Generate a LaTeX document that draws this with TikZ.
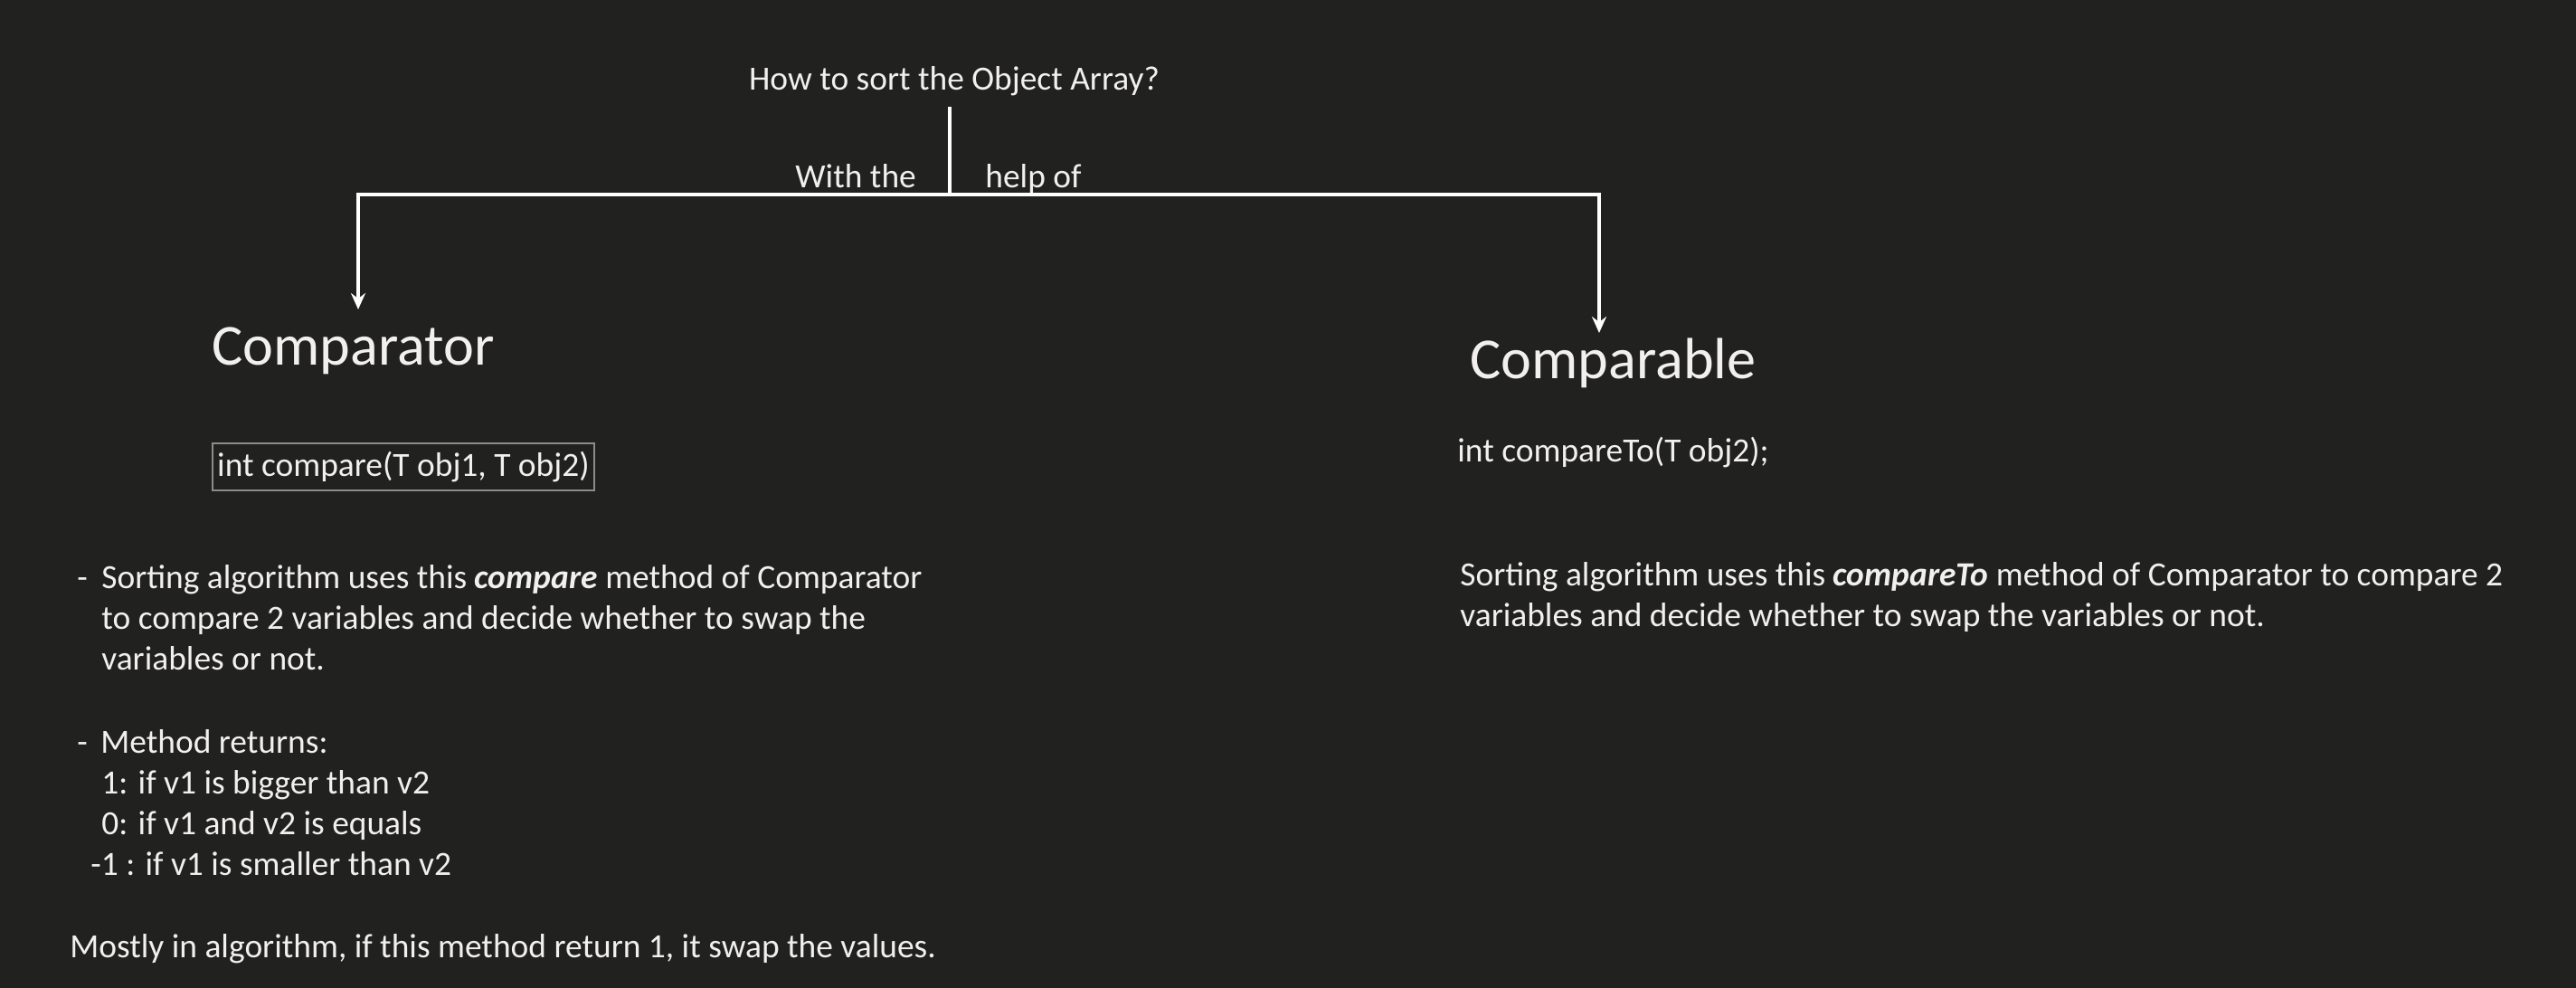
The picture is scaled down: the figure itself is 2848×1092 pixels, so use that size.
\documentclass[tikz,border=0pt]{standalone}
\usepackage{fontspec}
\setmainfont{Carlito}
\usetikzlibrary{arrows.meta}
\definecolor{bg}{RGB}{33,33,32}
\definecolor{fg}{RGB}{242,240,236}
\definecolor{boxline}{RGB}{140,140,138}
\tikzset{
  txt/.style={inner sep=0pt, anchor=base west, text=fg, font=\fontsize{18.72}{22.5}\selectfont},
  head/.style={inner sep=0pt, anchor=base west, text=fg, font=\fontsize{32.1}{36}\selectfont},
  conn/.style={draw=white, line width=1.8pt},
  arr/.style={conn, -{Stealth[length=9pt,width=8pt,inset=3pt]}},
  sigbox/.style={draw=boxline, line width=0.7pt, text=fg, inner sep=0pt,
    minimum width=211pt, minimum height=26pt, font=\fontsize{18.72}{22.5}\selectfont}
}
\begin{document}
\begin{tikzpicture}[x=0.5pt,y=-0.5pt]
\fill[bg] (0,0) rectangle (2848,1092);
\useasboundingbox (0,0) rectangle (2848,1092);

% title and connectors
\node[txt, anchor=base] (title) at (1055,99) {How to sort the Object Array?};
\coordinate (stem) at (1050,118);
\coordinate (split) at (1050,215);
\coordinate (lend) at (396,342);
\coordinate (rend) at (1768,368);
\draw[conn] (stem) -- (split);
\draw[arr] (split) -| (lend);
\draw[arr] (split) -| (rend);
\node[txt] (with) at (879,207) {With the};
\node[txt] (helpof) at (1089,207) {help of};

% Comparator column
\node[head] (comparator) at (234,403) {Comparator};
\node[sigbox] (compsig) at (446,516) {int compare(T obj1, T obj2)};
\node[txt] (d1) at (85,650) {-};
\node[txt] (l1) at (112,650) {Sorting algorithm uses this \textbf{\textit{compare}} method of Comparator};
\node[txt] (l2) at (112,695) {to compare 2 variables and decide whether to swap the};
\node[txt] (l3) at (112,740) {variables or not.};
\node[txt] (d2) at (85,832) {-};
\node[txt] (m1) at (111,832) {Method returns:};
\node[txt] (m2) at (112,877) {1: if v1 is bigger than v2};
\node[txt] (m3) at (112,922) {0: if v1 and v2 is equals};
\node[txt] (m4) at (100,967) {-1 : if v1 is smaller than v2};
\node[txt] (mostly) at (77,1058) {Mostly in algorithm, if this method return 1, it swap the values.};

% Comparable column
\node[head] (comparable) at (1625,418) {Comparable};
\node[txt] (cmpsig) at (1611,510) {int compareTo(T obj2);};
\node[txt] (r1) at (1614,647) {Sorting algorithm uses this \textbf{\textit{compareTo}} method of Comparator to compare 2};
\node[txt] (r2) at (1614,692) {variables and decide whether to swap the variables or not.};
\end{tikzpicture}
\end{document}
